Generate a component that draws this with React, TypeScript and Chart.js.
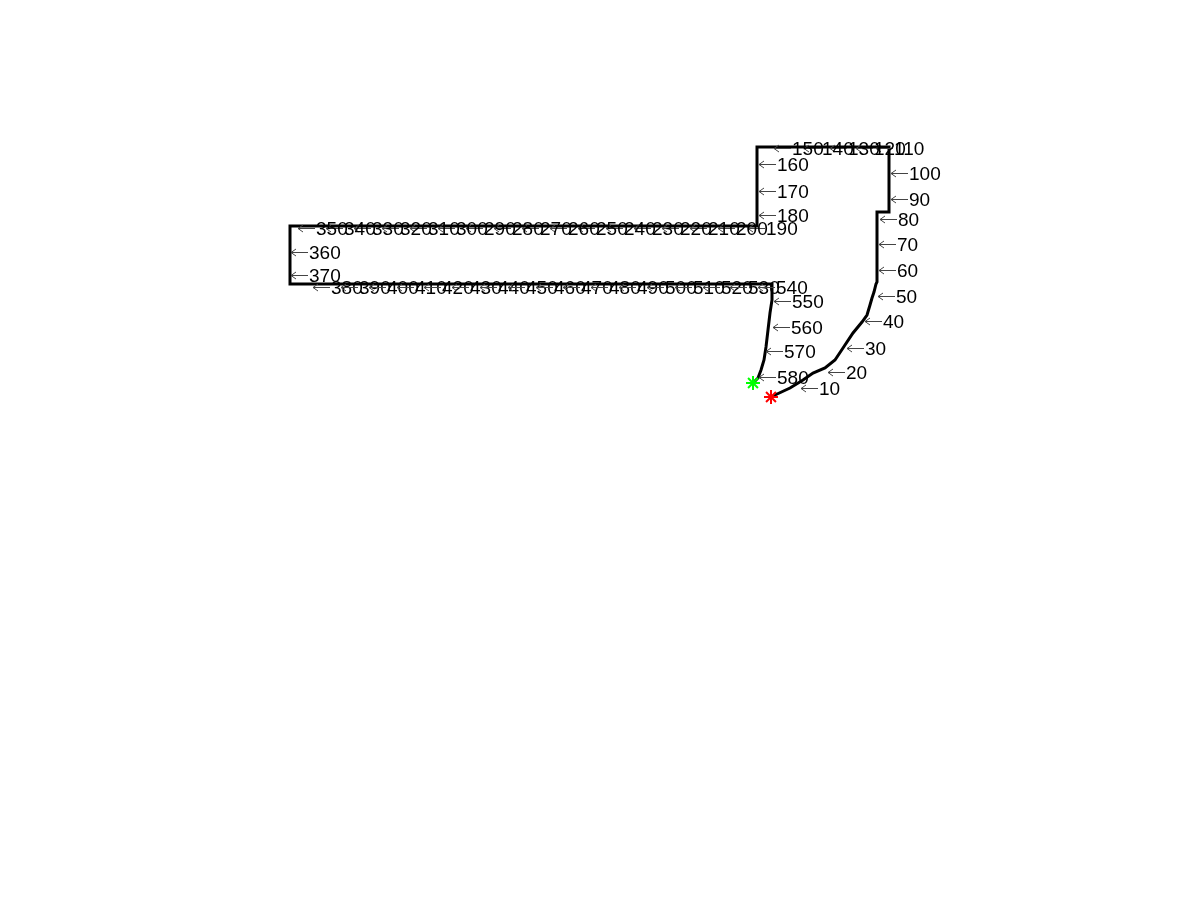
import React, { useEffect, useRef } from "react";
import { Chart, registerables } from "chart.js";

Chart.register(...registerables);

// Path vertices (plot units)
const pathX = [771, 775, 790, 803, 813, 825, 835, 843, 853, 862, 867, 870, 872, 874, 876, 877, 877, 889, 889, 757, 757, 290, 290, 772, 772, 770, 768, 766, 764, 761, 758, 753];
const pathY = [397, 395, 388, 380, 373, 368, 360, 348, 333, 322, 315, 305, 298, 292, 284, 282, 212, 212, 147, 147, 226, 226, 284, 284, 300, 313, 330, 347, 360, 370, 378, 383];

// Point-index labels
const labelText = ["10", "20", "30", "40", "50", "60", "70", "80", "90", "100", "110", "120", "130", "140", "150", "160", "170", "180", "190", "200", "210", "220", "230", "240", "250", "260", "270", "280", "290", "300", "310", "320", "330", "340", "350", "360", "370", "380", "390", "400", "410", "420", "430", "440", "450", "460", "470", "480", "490", "500", "510", "520", "530", "540", "550", "560", "570", "580"];
const labelX = [800, 827, 846, 864, 877, 878, 878, 879, 890, 890, 875, 855, 829, 803, 773, 758, 758, 758, 747, 717, 689, 661, 633, 605, 577, 549, 521, 493, 465, 437, 409, 381, 353, 325, 297, 290, 290, 312, 340, 368, 396, 423, 451, 479, 507, 535, 562, 590, 618, 646, 674, 702, 729, 757, 773, 772, 765, 758];
const labelY = [388, 372, 348, 321, 296, 270, 244, 219, 199, 173, 148, 148, 148, 148, 148, 164, 191, 215, 228, 228, 228, 228, 228, 228, 228, 228, 228, 228, 228, 228, 228, 228, 228, 228, 228, 252, 275, 287, 287, 287, 287, 287, 287, 287, 287, 287, 287, 287, 287, 287, 287, 287, 287, 287, 301, 327, 351, 377];

const startPoint = { x: 771, y: 397 };
const endPoint = { x: 753, y: 383 };

const labelPlugin = {
  id: "pointLabels",
  afterDatasetsDraw(chart: any) {
    const meta = chart.getDatasetMeta(3);
    const ctx = chart.ctx;
    ctx.save();
    ctx.font = '19px "Liberation Sans", Arial, sans-serif';
    ctx.textAlign = "left";
    ctx.textBaseline = "middle";
    meta.data.forEach((el: any, i: number) => {
      const x = Math.round(el.x);
      const y = Math.round(el.y) + 0.5;
      // TeX-style left arrow
      ctx.strokeStyle = "#444";
      ctx.lineWidth = 1;
      ctx.beginPath();
      ctx.moveTo(x + 1, y);
      ctx.lineTo(x + 18, y);
      ctx.moveTo(x + 1, y);
      ctx.lineTo(x + 6, y - 3.5);
      ctx.moveTo(x + 1, y);
      ctx.lineTo(x + 6, y + 3.5);
      ctx.stroke();
      ctx.fillStyle = "#000";
      ctx.fillText(labelText[i], x + 19, y + 1);
    });
    ctx.restore();
  },
};

export default function App() {
  const ref = useRef<HTMLCanvasElement | null>(null);
  useEffect(() => {
    if (!ref.current) return;
    const chart = new Chart(ref.current, {
      type: "scatter",
      data: {
        datasets: [
          {
            data: [startPoint],
            pointStyle: "star",
            pointRadius: 7,
            borderColor: "#ff0000",
            backgroundColor: "#ff0000",
            borderWidth: 2,
            order: 0,
          },
          {
            data: [endPoint],
            pointStyle: "star",
            pointRadius: 7,
            borderColor: "#00ff00",
            backgroundColor: "#00ff00",
            borderWidth: 2,
            order: 0,
          },
          {
            data: pathX.map((x, i) => ({ x, y: pathY[i] })),
            showLine: true,
            borderColor: "#000",
            borderWidth: 3,
            pointRadius: 0,
            tension: 0,
            order: 2,
          },
          {
            data: labelX.map((x, i) => ({ x, y: labelY[i] })),
            pointRadius: 0,
            showLine: false,
            order: 3,
          },
        ],
      },
      options: {
        animation: false,
        responsive: false,
        layout: { padding: 0, autoPadding: false },
        plugins: { legend: { display: false }, tooltip: { enabled: false } },
        scales: {
          x: { type: "linear", min: 0, max: 1200, display: false },
          y: { type: "linear", min: 0, max: 900, reverse: true, display: false },
        },
      },
      plugins: [labelPlugin],
    });
    return () => chart.destroy();
  }, []);
  return (
    <div style={{ position: "absolute", left: 0, top: 0, width: 1200, height: 900, background: "#fff" }}>
      <canvas ref={ref} width={1200} height={900} />
    </div>
  );
}
